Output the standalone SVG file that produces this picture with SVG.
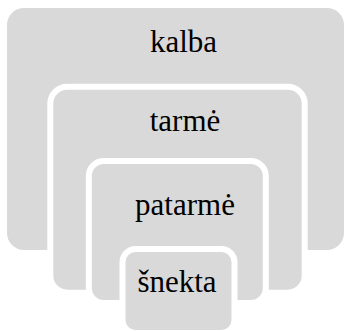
<svg xmlns="http://www.w3.org/2000/svg" width="345" height="331" viewBox="0 0 345 331">
<style>
.box{fill:#d9d9d9;stroke:#ffffff;stroke-width:6}
.lbl{font-family:"Liberation Serif","Times New Roman",serif;font-size:31px;fill:#000;text-anchor:middle}
</style>
<rect width="345" height="331" fill="#ffffff"/>
<g id="kalba">
<rect x="7" y="8" width="337" height="242" rx="17" ry="17" fill="#d9d9d9"/>
<text class="lbl" x="183.5" y="52">kalba</text>
</g>
<g id="tarme">
<rect class="box" x="50.3" y="86.7" width="254.4" height="206" rx="17" ry="17"/>
<text class="lbl" x="185" y="130.7">tarmė</text>
</g>
<g id="patarme">
<rect class="box" x="88.8" y="161" width="177" height="142" rx="15" ry="15"/>
<text class="lbl" x="185" y="215">patarmė</text>
</g>
<g id="snekta">
<rect class="box" x="122.5" y="249" width="112" height="84" rx="13" ry="13"/>
<text class="lbl" x="177" y="291.7">šnekta</text>
</g>
<g id="connectors"/>
</svg>
